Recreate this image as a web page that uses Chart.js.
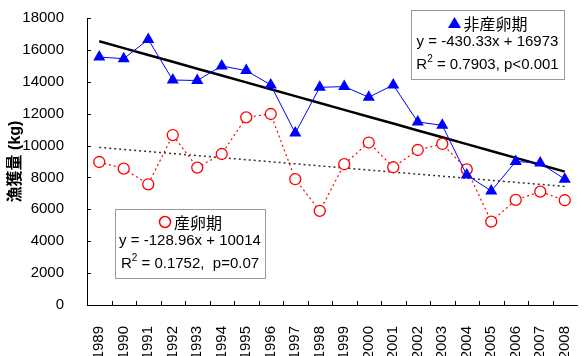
<!DOCTYPE html>
<html>
<head>
<meta charset="utf-8">
<script src="https://cdn.jsdelivr.net/npm/chart.js@4/dist/chart.umd.min.js"></script>
<style>
  html, body { margin: 0; padding: 0; background: #ffffff; }
  #wrap { width: 584px; height: 356px; }
</style>
</head>
<body>
<div id="wrap"><canvas id="c" width="584" height="356"></canvas></div>
<script>
// Catch (kg) by year, non-spawning and spawning season
const years = ['1989','1990','1991','1992','1993','1994','1995','1996','1997','1998',
               '1999','2000','2001','2002','2003','2004','2005','2006','2007','2008'];
const nonSpawning = [15550, 15450, 16650, 14110, 14080, 14990, 14700, 13800, 10780, 13650,
                     13700, 13030, 13800, 11480, 11270, 8150, 7150, 9000, 8900, 7890];
const spawning = [8970, 8550, 7570, 10660, 8620, 9470, 11770, 11980, 7890, 5900,
                  8830, 10190, 8640, 9720, 10100, 8510, 5230, 6590, 7110, 6570];

// Linear fits, x = 1..20
const nonSpawningSlope = -430.33, nonSpawningIntercept = 16973;
const spawningSlope = -128.96, spawningIntercept = 10014;

const yTicks = [0, 2000, 4000, 6000, 8000, 10000, 12000, 14000, 16000, 18000];

const nonSpawningFit = years.map((_, i) => nonSpawningSlope * (i + 1) + nonSpawningIntercept);
const spawningFit = years.map((_, i) => spawningSlope * (i + 1) + spawningIntercept);

const nonSpawningNote = ['非産卵期', 'y = -430.33x + 16973', '0.7903, p<0.001'];
const spawningNote = ['産卵期', 'y = -128.96x + 10014', '0.1752,  p=0.07'];

const LATIN = '"Liberation Sans", Arial, sans-serif';
const CJK = '"Noto Sans CJK JP", "Noto Sans CJK SC", sans-serif';

// Excel-style inward tick marks
const innerTicks = {
  id: 'innerTicks',
  afterDatasetsDraw(chart) {
    const ctx = chart.ctx, x = chart.scales.x, y = chart.scales.y;
    ctx.save();
    ctx.strokeStyle = '#000';
    ctx.lineWidth = 1;
    ctx.beginPath();
    y.ticks.forEach(t => {
      const py = Math.round(y.getPixelForValue(t.value)) + 0.5;
      ctx.moveTo(x.left, py); ctx.lineTo(x.left + 4, py);
    });
    for (let i = 0; i + 1 < years.length; i++) {
      const px = Math.round((x.getPixelForValue(i) + x.getPixelForValue(i + 1)) / 2) + 0.5;
      ctx.moveTo(px, y.bottom); ctx.lineTo(px, y.bottom - 4);
    }
    ctx.stroke();
    ctx.restore();
  }
};

// Regression notes in framed boxes
function drawNote(ctx, box, lines, marker) {
  ctx.save();
  ctx.fillStyle = '#fff';
  ctx.fillRect(box.x, box.y, box.w, box.h);
  ctx.strokeStyle = '#9a9a9a';
  ctx.lineWidth = 1;
  ctx.strokeRect(box.x + 0.5, box.y + 0.5, box.w, box.h);
  const cx = box.x + box.w / 2;
  ctx.fillStyle = '#000';
  ctx.textBaseline = 'middle';

  // line 1: marker + season name
  ctx.font = '16px ' + CJK;
  const nameW = ctx.measureText(lines[0]).width;
  const mW = 14;
  const startX = cx - (nameW + mW + 2) / 2;
  marker(ctx, startX + mW / 2, box.y + box.line[0]);
  ctx.textAlign = 'left';
  ctx.fillStyle = '#000';
  ctx.fillText(lines[0], startX + mW + 2, box.y + box.line[0] + 1);

  // line 2: equation
  ctx.font = '15px ' + LATIN;
  ctx.textAlign = 'center';
  ctx.fillText(lines[1], cx, box.y + box.line[1]);

  // line 3: R^2 with superscript
  const rW = ctx.measureText('R').width;
  ctx.font = '10px ' + LATIN;
  const sW = ctx.measureText('2').width;
  ctx.font = '15px ' + LATIN;
  const rest = ' = ' + lines[2];
  const restW = ctx.measureText(rest).width;
  let lx = cx - (rW + sW + restW) / 2;
  ctx.textAlign = 'left';
  ctx.fillText('R', lx, box.y + box.line[2]);
  ctx.font = '10px ' + LATIN;
  ctx.fillText('2', lx + rW, box.y + box.line[2] - 6);
  ctx.font = '15px ' + LATIN;
  ctx.fillText(rest, lx + rW + sW, box.y + box.line[2]);
  ctx.restore();
}

const notes = {
  id: 'notes',
  afterDraw(chart) {
    const ctx = chart.ctx;
    drawNote(ctx, { x: 411, y: 10, w: 153, h: 69, line: [13, 32, 55] }, nonSpawningNote, (c, x, y) => {
      c.fillStyle = '#0000ff';
      c.beginPath();
      c.moveTo(x, y - 6); c.lineTo(x + 6.5, y + 5); c.lineTo(x - 6.5, y + 5);
      c.closePath(); c.fill();
    });
    drawNote(ctx, { x: 115, y: 209, w: 150, h: 69, line: [13, 32, 55] }, spawningNote, (c, x, y) => {
      c.strokeStyle = '#ff0000';
      c.lineWidth = 1.5;
      c.beginPath(); c.arc(x, y, 5.5, 0, Math.PI * 2); c.stroke();
    });
  }
};

function noEdgePadding(scale) {
  scale.paddingLeft = 0;
  scale.paddingRight = 0;
  scale.paddingTop = 0;
  scale.paddingBottom = 0;
}

new Chart(document.getElementById('c'), {
  type: 'line',
  data: {
    labels: years,
    datasets: [
      {
        label: '非産卵期',
        data: nonSpawning,
        order: 1,
        borderColor: '#0000ff',
        borderWidth: 1,
        backgroundColor: '#0000ff',
        pointStyle: 'triangle',
        pointRadius: 7,
        pointBorderWidth: 0,
        pointBackgroundColor: '#0000ff',
        tension: 0
      },
      {
        label: '産卵期',
        data: spawning,
        order: 2,
        borderColor: '#ff0000',
        borderWidth: 1.2,
        borderDash: [2, 3],
        pointStyle: 'circle',
        pointRadius: 5.5,
        pointBorderWidth: 1.3,
        pointBorderColor: '#ff0000',
        pointBackgroundColor: '#ffffff',
        tension: 0
      },
      {
        label: '非産卵期 fit',
        data: nonSpawningFit,
        order: 3,
        borderColor: '#000000',
        borderWidth: 2.5,
        pointRadius: 0,
        tension: 0
      },
      {
        label: '産卵期 fit',
        data: spawningFit,
        order: 4,
        borderColor: '#333333',
        borderWidth: 1.5,
        borderDash: [2, 3],
        pointRadius: 0,
        tension: 0
      }
    ]
  },
  options: {
    responsive: false,
    animation: false,
    devicePixelRatio: 1,
    clip: false,
    layout: { padding: { top: 18, right: 0, left: 0, bottom: 0 } },
    plugins: { legend: { display: false }, tooltip: { enabled: false } },
    scales: {
      x: {
        type: 'category',
        offset: true,
        grid: { display: false },
        border: { display: true, color: '#000', width: 1 },
        ticks: {
          autoSkip: false,
          minRotation: 90,
          maxRotation: 90,
          padding: 13,
          color: '#000',
          font: { family: LATIN, size: 15 }
        },
        afterFit(scale) { scale.height = 51; noEdgePadding(scale); }
      },
      y: {
        min: 0,
        max: 18000,
        afterBuildTicks(scale) { scale.ticks = yTicks.map(v => ({ value: v })); },
        grid: { display: false },
        border: { display: true, color: '#000', width: 1 },
        ticks: {
          padding: 15,
          color: '#000',
          font: { family: LATIN, size: 15 },
          callback: v => String(v)
        },
        title: {
          display: true,
          text: '漁獲量 (kg)',
          color: '#000',
          padding: { top: 6, bottom: 0 },
          font: { family: '"Liberation Sans", "Noto Sans CJK JP", sans-serif', size: 16, weight: 'bold' }
        },
        afterFit(scale) { scale.width = 87; noEdgePadding(scale); }
      }
    }
  },
  plugins: [innerTicks, notes]
});
</script>
</body>
</html>
